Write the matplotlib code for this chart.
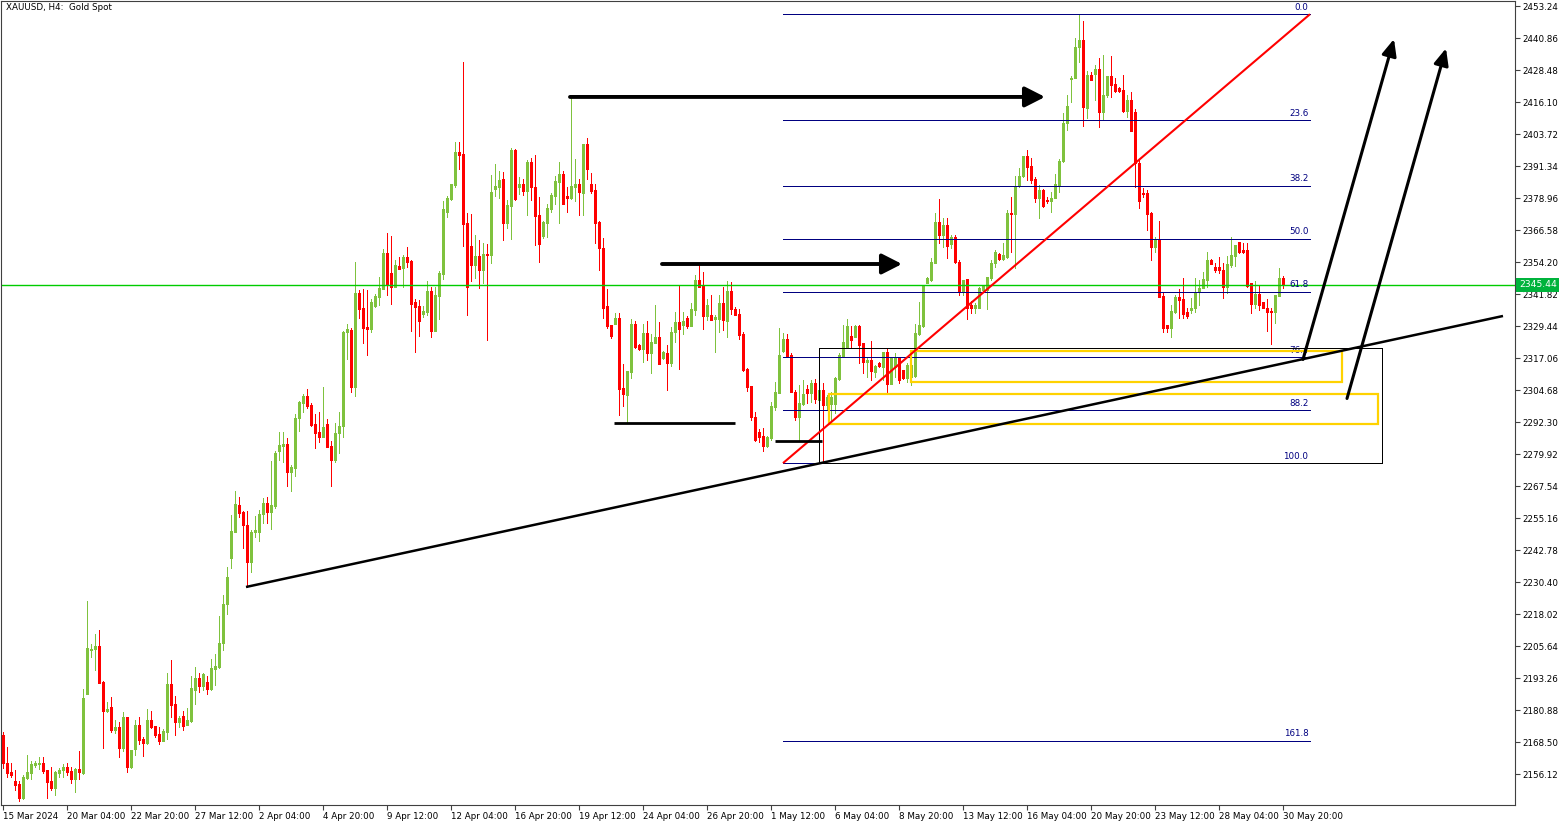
import numpy as np
import matplotlib.pyplot as plt
from matplotlib.patches import Rectangle
from matplotlib.transforms import blended_transform_factory

# H4 XAUUSD candles, 15 Mar - 31 May 2024
opens = [
    2171.3, 2160.5, 2157.0, 2153.5, 2152.4, 2147.0, 2154.7, 2156.6, 2159.7, 2160.1,
    2160.5, 2157.8, 2153.5, 2150.8, 2156.6, 2157.8, 2158.9, 2157.4, 2154.3, 2158.2,
    2156.6, 2187.2, 2204.2, 2204.6, 2205.8, 2191.8, 2180.6, 2182.2, 2173.3, 2174.4,
    2166.3, 2178.3, 2158.9, 2165.9, 2175.2, 2169.8, 2168.3, 2177.1, 2174.8, 2171.7,
    2169.0, 2172.5, 2191.0, 2183.3, 2176.4, 2178.7, 2175.2, 2176.7, 2188.7, 2193.4,
    2190.3, 2191.8, 2189.1, 2196.9, 2197.6, 2206.9, 2222.0, 2239.8, 2249.8, 2260.3,
    2257.6, 2252.6, 2238.2, 2249.8, 2249.8, 2256.8, 2261.1, 2257.6, 2259.9, 2281.2,
    2283.1, 2283.9, 2273.0, 2274.6, 2293.9, 2299.7, 2302.4, 2299.0, 2291.6, 2288.5,
    2286.6, 2291.6, 2283.1, 2277.7, 2288.1, 2290.8, 2327.2, 2328.0, 2305.9, 2342.3,
    2336.5, 2329.1, 2328.3, 2337.2, 2340.7, 2343.8, 2357.7, 2350.0, 2344.6, 2352.7,
    2351.9, 2356.2, 2354.6, 2338.8, 2337.2, 2334.1, 2334.9, 2343.0, 2327.6, 2341.1,
    2349.6, 2373.6, 2378.6, 2384.0, 2396.8, 2396.0, 2369.3, 2360.4, 2353.1, 2356.6,
    2351.2, 2357.3, 2356.9, 2382.5, 2383.2, 2386.3, 2369.3, 2375.9, 2397.6, 2383.2,
    2384.4, 2381.7, 2392.9, 2383.2, 2372.4, 2364.3, 2369.3, 2374.7, 2379.8, 2385.2,
    2388.3, 2379.8, 2379.0, 2383.2, 2384.4, 2380.9, 2399.9, 2384.4, 2382.1, 2369.7,
    2359.7, 2337.2, 2329.9, 2330.3, 2332.6, 2305.5, 2302.8, 2311.7, 2330.3, 2322.2,
    2320.6, 2326.8, 2319.1, 2322.9, 2325.2, 2317.1, 2319.1, 2315.2, 2327.2, 2331.0,
    2329.9, 2332.6, 2329.5, 2335.7, 2347.3, 2345.0, 2333.4, 2333.8, 2332.2, 2332.2,
    2338.4, 2331.4, 2343.0, 2336.1, 2334.1, 2326.4, 2312.9, 2306.3, 2294.3, 2288.5,
    2287.0, 2283.1, 2286.2, 2298.2, 2303.6, 2319.8, 2324.5, 2318.3, 2304.0, 2294.3,
    2299.3, 2305.1, 2303.6, 2307.5, 2300.9, 2304.8, 2299.0, 2299.3, 2299.3, 2309.0,
    2317.9, 2321.0, 2325.6, 2325.2, 2329.5, 2322.9, 2315.6, 2316.4, 2311.7, 2315.2,
    2313.6, 2319.4, 2307.1, 2313.6, 2317.5, 2312.5, 2309.4, 2309.8, 2310.2, 2326.4,
    2329.5, 2346.1, 2347.3, 2353.9, 2369.7, 2364.7, 2368.6, 2361.2, 2363.9, 2354.2,
    2342.7, 2347.7, 2337.6, 2336.5, 2336.5, 2343.4, 2343.4, 2348.1, 2353.9, 2357.3,
    2355.4, 2356.2, 2373.2, 2372.8, 2383.6, 2387.5, 2395.2, 2391.4, 2386.3, 2379.0,
    2382.1, 2378.2, 2377.8, 2379.0, 2384.0, 2393.3, 2408.0, 2425.0, 2425.4, 2437.4,
    2440.1, 2413.8, 2426.6, 2426.9, 2428.9, 2412.3, 2418.8, 2426.2, 2423.1, 2421.5,
    2420.8, 2412.6, 2416.9, 2412.3, 2392.5, 2380.9, 2380.9, 2373.2, 2360.0, 2363.1,
    2341.1, 2329.9, 2328.7, 2334.9, 2340.7, 2339.9, 2334.9, 2335.7, 2336.5, 2342.7,
    2344.2, 2347.3, 2355.0, 2352.3, 2352.3, 2351.2, 2344.6, 2353.1, 2356.6, 2362.0,
    2358.9, 2358.9, 2346.1, 2338.0, 2341.9, 2338.8, 2336.5, 2335.3, 2334.9, 2341.1,
    2348.1,
]
highs = [
    2172.5, 2166.7, 2160.5, 2157.8, 2153.5, 2155.9, 2163.6, 2161.3, 2161.3, 2162.8,
    2162.8, 2157.8, 2158.9, 2157.4, 2158.6, 2160.1, 2160.5, 2158.9, 2158.6, 2165.2,
    2189.1, 2223.2, 2206.5, 2210.4, 2211.9, 2192.2, 2184.1, 2186.0, 2177.1, 2176.4,
    2180.2, 2178.3, 2165.5, 2177.1, 2178.3, 2170.6, 2181.4, 2180.6, 2174.8, 2174.4,
    2173.7, 2195.3, 2200.3, 2186.4, 2178.7, 2180.6, 2181.8, 2194.2, 2197.6, 2195.3,
    2195.3, 2194.2, 2200.7, 2202.7, 2217.4, 2225.5, 2236.3, 2256.4, 2265.7, 2263.4,
    2258.0, 2258.0, 2250.6, 2256.0, 2258.3, 2263.0, 2263.4, 2277.3, 2281.2, 2288.5,
    2288.5, 2286.2, 2275.7, 2295.5, 2300.5, 2303.2, 2305.1, 2299.7, 2295.5, 2296.2,
    2305.9, 2293.5, 2285.0, 2292.0, 2296.2, 2327.6, 2330.3, 2328.7, 2354.2, 2343.4,
    2343.8, 2343.4, 2339.9, 2341.9, 2348.4, 2359.3, 2365.5, 2364.3, 2355.0, 2356.2,
    2356.9, 2360.0, 2355.0, 2339.9, 2339.6, 2337.2, 2346.9, 2344.6, 2344.6, 2350.8,
    2377.8, 2379.8, 2384.4, 2400.6, 2400.6, 2431.6, 2373.2, 2372.8, 2364.7, 2362.8,
    2361.6, 2361.2, 2387.9, 2392.1, 2389.4, 2389.0, 2378.2, 2398.3, 2398.0, 2387.1,
    2386.3, 2393.7, 2394.5, 2395.6, 2379.4, 2370.1, 2376.7, 2380.9, 2387.5, 2392.9,
    2389.4, 2383.2, 2418.1, 2394.1, 2386.3, 2399.9, 2402.2, 2388.7, 2384.4, 2370.1,
    2363.5, 2343.8, 2329.9, 2334.5, 2334.5, 2314.8, 2312.1, 2332.2, 2331.4, 2322.5,
    2330.3, 2331.4, 2326.4, 2337.6, 2331.0, 2319.8, 2322.2, 2329.1, 2334.9, 2345.0,
    2334.9, 2333.4, 2338.4, 2349.2, 2353.1, 2350.4, 2339.9, 2341.5, 2333.8, 2341.5,
    2344.6, 2346.9, 2346.5, 2336.8, 2336.1, 2327.2, 2313.3, 2306.3, 2296.2, 2289.7,
    2290.1, 2287.0, 2300.1, 2307.8, 2328.7, 2326.8, 2326.4, 2319.1, 2304.8, 2306.7,
    2308.6, 2306.7, 2308.6, 2309.0, 2305.9, 2307.5, 2302.8, 2304.0, 2309.8, 2319.1,
    2329.9, 2332.2, 2329.5, 2329.9, 2329.9, 2322.9, 2317.5, 2323.7, 2314.4, 2315.6,
    2319.4, 2321.0, 2317.5, 2319.1, 2317.5, 2312.5, 2315.2, 2315.6, 2330.3, 2338.8,
    2345.4, 2348.4, 2355.8, 2373.2, 2378.6, 2371.3, 2371.3, 2364.7, 2364.7, 2355.0,
    2347.3, 2347.7, 2339.2, 2338.4, 2344.6, 2345.4, 2348.4, 2355.0, 2358.9, 2357.7,
    2361.6, 2374.4, 2379.4, 2387.5, 2390.6, 2395.2, 2397.6, 2394.5, 2387.1, 2384.0,
    2382.5, 2379.4, 2381.3, 2388.3, 2394.1, 2411.9, 2418.8, 2426.2, 2440.9, 2449.8,
    2447.4, 2428.1, 2427.7, 2430.4, 2433.1, 2434.3, 2426.2, 2433.9, 2425.4, 2421.9,
    2426.6, 2418.8, 2420.0, 2413.4, 2393.7, 2382.9, 2382.1, 2373.6, 2363.9, 2370.1,
    2342.7, 2329.9, 2337.6, 2341.5, 2343.8, 2348.1, 2336.5, 2340.3, 2348.1, 2347.3,
    2350.4, 2358.1, 2355.4, 2353.9, 2356.2, 2353.9, 2356.6, 2363.9, 2360.8, 2362.0,
    2361.6, 2361.6, 2346.1, 2346.9, 2345.4, 2338.8, 2339.9, 2336.5, 2341.5, 2352.0,
    2348.8,
]
lows = [
    2158.6, 2155.1, 2155.1, 2150.1, 2145.8, 2146.6, 2154.3, 2154.3, 2158.9, 2158.2,
    2156.6, 2147.0, 2150.1, 2148.1, 2155.1, 2155.1, 2155.9, 2152.8, 2149.3, 2154.3,
    2156.3, 2187.2, 2201.5, 2196.5, 2191.4, 2166.3, 2180.2, 2172.5, 2172.1, 2162.8,
    2165.2, 2157.0, 2158.6, 2163.6, 2167.9, 2163.2, 2167.9, 2174.0, 2170.6, 2167.9,
    2169.0, 2169.8, 2178.3, 2171.3, 2174.4, 2173.3, 2175.2, 2176.4, 2183.3, 2188.0,
    2188.7, 2187.2, 2188.7, 2190.7, 2197.2, 2204.2, 2218.1, 2235.9, 2249.8, 2255.6,
    2243.6, 2228.6, 2234.4, 2247.9, 2246.4, 2253.3, 2253.3, 2251.0, 2259.1, 2277.7,
    2276.9, 2267.6, 2265.7, 2271.5, 2288.9, 2296.2, 2297.8, 2290.8, 2282.3, 2284.6,
    2286.6, 2282.7, 2267.6, 2276.9, 2280.4, 2286.6, 2316.7, 2304.0, 2302.4, 2332.6,
    2322.9, 2318.3, 2327.2, 2336.8, 2337.6, 2343.8, 2341.5, 2338.0, 2344.6, 2351.5,
    2344.6, 2352.3, 2327.6, 2319.4, 2325.6, 2333.0, 2333.8, 2325.2, 2327.6, 2332.2,
    2347.7, 2371.6, 2378.2, 2383.2, 2390.2, 2360.4, 2333.8, 2346.9, 2348.1, 2344.2,
    2346.1, 2324.1, 2353.9, 2379.8, 2379.0, 2362.8, 2367.4, 2363.1, 2378.2, 2380.5,
    2380.2, 2372.4, 2378.2, 2360.8, 2354.2, 2363.5, 2363.9, 2373.6, 2376.7, 2369.3,
    2376.7, 2373.6, 2378.6, 2377.8, 2372.4, 2372.4, 2386.3, 2380.9, 2361.6, 2351.2,
    2332.6, 2328.7, 2324.8, 2330.3, 2295.1, 2298.6, 2292.0, 2309.4, 2321.0, 2320.2,
    2315.6, 2316.4, 2311.3, 2322.9, 2314.8, 2316.7, 2304.8, 2314.0, 2323.3, 2312.9,
    2326.4, 2328.7, 2329.5, 2333.8, 2344.6, 2328.3, 2331.8, 2331.8, 2319.4, 2327.2,
    2328.0, 2325.2, 2334.1, 2333.8, 2324.5, 2312.1, 2304.4, 2293.1, 2285.0, 2284.6,
    2281.2, 2282.7, 2285.4, 2297.0, 2303.6, 2319.4, 2317.9, 2304.0, 2293.1, 2285.4,
    2299.0, 2299.7, 2300.1, 2299.7, 2299.7, 2276.5, 2297.0, 2293.1, 2295.8, 2308.6,
    2317.5, 2321.0, 2321.0, 2325.2, 2315.2, 2311.3, 2309.8, 2308.6, 2309.8, 2313.6,
    2308.6, 2303.6, 2307.1, 2309.8, 2307.5, 2309.0, 2307.8, 2306.7, 2309.8, 2326.0,
    2329.1, 2346.1, 2346.9, 2353.9, 2361.6, 2360.0, 2355.8, 2359.7, 2353.9, 2341.5,
    2341.5, 2332.2, 2334.5, 2334.5, 2336.5, 2343.0, 2336.1, 2347.3, 2352.3, 2355.0,
    2355.0, 2355.8, 2358.1, 2351.9, 2383.2, 2387.1, 2386.0, 2384.8, 2377.5, 2371.3,
    2375.5, 2377.1, 2373.6, 2379.0, 2381.3, 2392.9, 2405.3, 2416.1, 2425.4, 2431.6,
    2406.8, 2409.9, 2424.6, 2416.9, 2406.4, 2409.2, 2418.1, 2418.1, 2420.0, 2420.0,
    2412.3, 2410.3, 2404.9, 2383.2, 2375.1, 2379.4, 2366.6, 2355.0, 2358.1, 2340.7,
    2327.2, 2327.2, 2325.2, 2334.5, 2332.6, 2332.6, 2332.6, 2334.5, 2334.9, 2337.6,
    2344.2, 2344.6, 2353.5, 2350.4, 2350.0, 2340.3, 2342.3, 2352.3, 2352.7, 2357.7,
    2357.7, 2344.6, 2334.5, 2336.5, 2335.7, 2336.5, 2327.6, 2322.5, 2330.7, 2341.1,
    2344.2,
]
closes = [
    2160.5, 2156.6, 2155.9, 2152.0, 2147.0, 2155.1, 2157.0, 2160.1, 2160.5, 2160.5,
    2157.4, 2153.2, 2150.8, 2157.0, 2157.8, 2158.9, 2157.0, 2154.3, 2158.2, 2157.0,
    2185.6, 2205.0, 2204.6, 2205.8, 2191.4, 2180.6, 2181.4, 2173.3, 2174.4, 2166.3,
    2178.3, 2158.9, 2165.5, 2175.2, 2169.4, 2168.3, 2177.1, 2174.4, 2171.3, 2169.0,
    2172.9, 2191.0, 2182.9, 2176.4, 2177.9, 2174.8, 2177.1, 2189.5, 2193.4, 2190.3,
    2194.9, 2189.1, 2197.2, 2198.0, 2206.9, 2222.0, 2232.4, 2250.2, 2260.7, 2257.2,
    2252.6, 2238.2, 2249.8, 2250.6, 2256.8, 2261.1, 2257.6, 2260.3, 2280.4, 2283.5,
    2283.9, 2273.0, 2275.0, 2293.9, 2300.1, 2302.4, 2298.6, 2291.2, 2288.1, 2286.6,
    2290.4, 2282.7, 2277.7, 2288.1, 2290.8, 2327.2, 2328.3, 2305.9, 2342.3, 2336.1,
    2328.7, 2328.3, 2338.8, 2341.1, 2344.2, 2357.7, 2345.4, 2344.6, 2353.1, 2351.5,
    2356.2, 2354.2, 2338.0, 2336.8, 2331.4, 2335.3, 2343.0, 2327.6, 2341.5, 2350.0,
    2374.7, 2379.0, 2384.4, 2396.8, 2395.6, 2368.9, 2344.6, 2353.1, 2356.6, 2351.2,
    2357.3, 2356.9, 2381.3, 2383.6, 2386.0, 2369.3, 2376.3, 2397.6, 2378.6, 2384.4,
    2381.7, 2392.9, 2383.2, 2372.0, 2361.2, 2369.7, 2375.1, 2380.2, 2385.6, 2388.3,
    2376.7, 2379.0, 2383.6, 2384.4, 2381.3, 2399.9, 2390.2, 2381.7, 2369.3, 2359.6,
    2336.5, 2329.5, 2325.6, 2332.6, 2305.1, 2303.2, 2312.1, 2330.3, 2321.4, 2320.6,
    2326.8, 2319.1, 2323.3, 2325.2, 2314.8, 2319.4, 2315.2, 2327.2, 2331.0, 2328.3,
    2331.4, 2329.5, 2336.1, 2347.3, 2344.6, 2333.4, 2337.6, 2331.8, 2333.0, 2338.4,
    2331.8, 2343.0, 2336.1, 2333.8, 2326.0, 2312.5, 2305.9, 2294.3, 2285.4, 2286.6,
    2283.1, 2286.6, 2298.6, 2304.0, 2318.3, 2324.5, 2317.9, 2304.0, 2294.3, 2299.7,
    2303.2, 2303.6, 2307.5, 2301.3, 2304.8, 2299.0, 2302.0, 2302.0, 2309.4, 2318.3,
    2323.3, 2329.5, 2324.1, 2329.5, 2322.2, 2315.6, 2316.4, 2312.1, 2314.0, 2314.0,
    2319.4, 2307.1, 2317.1, 2317.5, 2308.6, 2309.4, 2314.4, 2314.4, 2326.8, 2329.9,
    2345.4, 2348.1, 2354.2, 2369.7, 2364.7, 2368.6, 2360.4, 2363.9, 2354.2, 2342.7,
    2347.3, 2336.5, 2336.5, 2337.6, 2344.2, 2345.0, 2348.4, 2353.9, 2358.1, 2355.4,
    2356.9, 2373.2, 2372.8, 2383.6, 2387.5, 2395.2, 2391.0, 2386.0, 2379.0, 2382.1,
    2375.9, 2377.8, 2379.0, 2384.4, 2393.3, 2408.0, 2414.6, 2425.4, 2437.4, 2440.1,
    2414.2, 2426.6, 2424.6, 2428.9, 2412.3, 2418.8, 2426.2, 2422.7, 2420.4, 2420.4,
    2412.6, 2416.9, 2404.9, 2392.5, 2377.8, 2380.5, 2372.8, 2360.0, 2363.1, 2340.7,
    2328.7, 2328.7, 2335.3, 2340.7, 2339.6, 2334.1, 2333.4, 2336.5, 2342.7, 2344.2,
    2347.7, 2355.0, 2353.5, 2351.2, 2351.2, 2344.6, 2353.5, 2356.9, 2360.8, 2358.1,
    2358.1, 2345.0, 2338.0, 2341.9, 2337.6, 2336.5, 2334.9, 2334.9, 2341.5, 2348.1,
    2345.4,
]

# time axis labels (every 16 bars)
tick_bars = list(range(0, 321, 16))
tick_labels = [
    '15 Mar 2024', '20 Mar 04:00', '22 Mar 20:00', '27 Mar 12:00', '2 Apr 04:00',
    '4 Apr 20:00', '9 Apr 12:00', '12 Apr 04:00', '16 Apr 20:00', '19 Apr 12:00',
    '24 Apr 04:00', '26 Apr 20:00', '1 May 12:00', '6 May 04:00', '8 May 20:00',
    '13 May 12:00', '16 May 04:00', '20 May 20:00', '23 May 12:00', '28 May 04:00',
    '30 May 20:00',
]
price_ticks = [2156.12 + 12.38 * k for k in range(25)]
last_price = 2345.44

# fibonacci tool anchors
fib_high, fib_low = 2450.1, 2276.5
fib_x = (195, 326.75)
fib_levels = [0.0, 23.6, 38.2, 50.0, 61.8, 76.4, 88.2, 100.0, 161.8]

# hand drawn objects (bar index, price)
trend_black = [(60.75, 2228.6), (375, 2333.4)]
trend_red = [(195, 2276.5), (326.75, 2450.1)]
flat_arrows = [((141.75, 2418.1), (260.5, 2418.1)),
               ((164.75, 2353.5), (224.75, 2353.5))]
up_arrows = [((325, 2316.6), (347.75, 2440.5)),
             ((336, 2301.5), (360.75, 2436.9))]
flat_lines = [((152.75, 2292.0), (183, 2292.0)),
              ((193, 2285.0), (204.75, 2285.0))]
box_black = (204, 344.75, 2276.5, 2321.0)
boxes_yellow = [(227, 334.75, 2307.8, 2319.8),
                (206.5, 343.75, 2291.6, 2303.2)]

GREEN = '#7FC23E'
RED = '#FF0000'
NAVY = '#000080'
FS = 6.3

W, H = 1567, 827
fig = plt.figure(figsize=(W / 100, H / 100), dpi=100)
ax = fig.add_axes([1 / W, 22 / H, 1514 / W, 804 / H])

o = np.array(opens)
hi = np.array(highs)
lo = np.array(lows)
c = np.array(closes)
x = np.arange(len(c))
cols = np.where(c >= o, GREEN, RED)

# wicks 1 px, bodies 3 px
ax.vlines(x, lo, hi, colors=cols, lw=0.72, zorder=2, antialiased=False)
bot = np.minimum(o, c)
top = np.maximum(np.maximum(o, c), bot + 0.4)
ax.vlines(x, bot, top, colors=cols, lw=2.16, zorder=2.1, antialiased=False,
          capstyle='butt')

# bid line
ax.axhline(last_price, color='#00CC00', lw=1.0, zorder=2.5)

# fibonacci retracement
for r in fib_levels:
    p = fib_high - r / 100 * (fib_high - fib_low)
    ax.hlines(p, fib_x[0], fib_x[1], color=NAVY, lw=0.72, zorder=3, antialiased=False)
    ax.text(fib_x[1] - 0.4, p + 0.9, f'{r:.1f}', ha='right', va='bottom',
            fontsize=FS, color=NAVY, zorder=3)

# rectangles
x0, x1, y0, y1 = box_black
ax.add_patch(Rectangle((x0, y0), x1 - x0, y1 - y0, fill=False, ec='black', lw=0.72,
                       zorder=3, antialiased=False))
for x0, x1, y0, y1 in boxes_yellow:
    ax.add_patch(Rectangle((x0, y0), x1 - x0, y1 - y0, fill=False, ec='#FFD200', lw=1.6, zorder=3.2))

# trend lines
(ax_, ay_), (bx_, by_) = trend_black
ax.plot([ax_, bx_], [ay_, by_], color='black', lw=1.8, solid_capstyle='butt', zorder=4)
(ax_, ay_), (bx_, by_) = trend_red
ax.plot([ax_, bx_], [ay_, by_], color=RED, lw=1.5, solid_capstyle='butt', zorder=4)
for (sx, sy), (ex, ey) in flat_lines:
    ax.plot([sx, ex], [sy, ey], color='black', lw=2.0, solid_capstyle='butt', zorder=4)

# arrows
for start, end in flat_arrows:
    ax.annotate('', xy=end, xytext=start, zorder=5,
                arrowprops=dict(arrowstyle='-|>,head_length=0.55,head_width=0.28',
                                lw=2.8, color='black', shrinkA=0, shrinkB=0,
                                mutation_scale=22))
for start, end in up_arrows:
    ax.annotate('', xy=end, xytext=start, zorder=5,
                arrowprops=dict(arrowstyle='-|>,head_length=0.5,head_width=0.22',
                                lw=2.2, color='black', shrinkA=0, shrinkB=0,
                                mutation_scale=20))

ax.set_xlim(-0.5, 378)
ax.set_ylim(2144.3, 2455.2)

ax.set_xticks(tick_bars)
ax.set_xticklabels(tick_labels, ha='left')
ax.yaxis.tick_right()
ax.set_yticks(price_ticks)
ax.set_yticklabels([f'{v:.2f}' for v in price_ticks])
ax.tick_params(axis='both', length=3.5, width=0.8, color='#404040',
               labelsize=FS, pad=1.5, labelcolor='black')
for s in ax.spines.values():
    s.set_color('#404040')
    s.set_linewidth(0.8)

# current price tag
tr = blended_transform_factory(ax.transAxes, ax.transData)
ax.text(1.0025, last_price, f'{last_price:.2f}', transform=tr, ha='left', va='center',
        fontsize=FS + 0.3, color='white', zorder=6,
        bbox=dict(boxstyle='square,pad=0.25', fc='#00B33C', ec='none'))

ax.text(0.003, 0.997, 'XAUUSD, H4:  Gold Spot', transform=ax.transAxes,
        ha='left', va='top', fontsize=FS, color='black')

fig.savefig('out.png', dpi=100)
